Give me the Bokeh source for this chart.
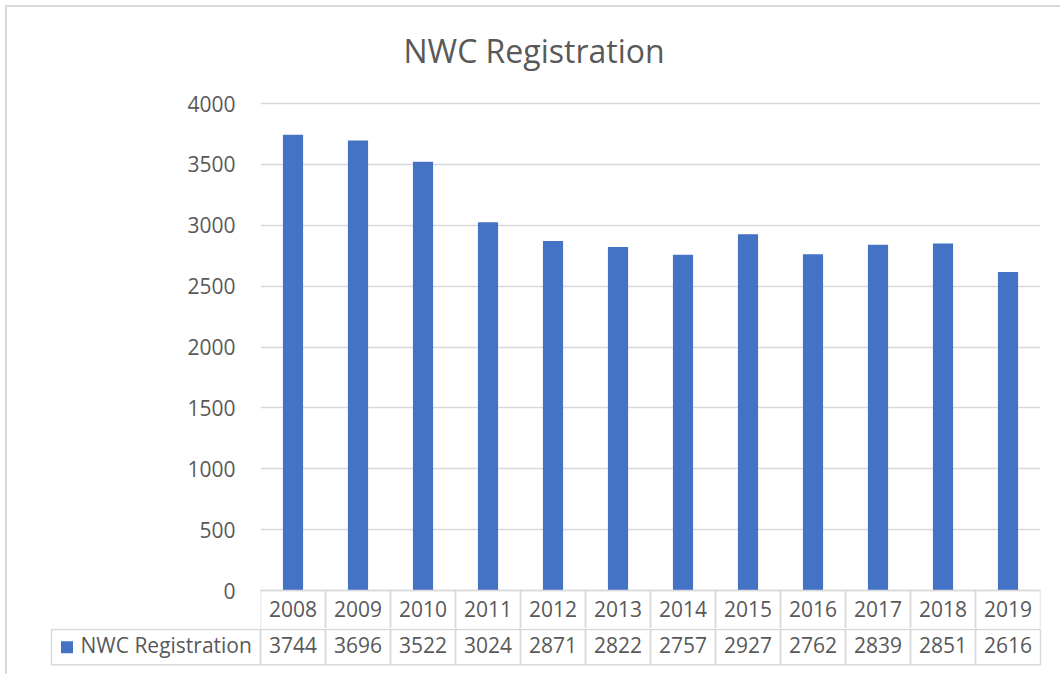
from bokeh.plotting import figure
from bokeh.models import Range1d, FixedTicker, ColumnDataSource, Div
from bokeh.core.properties import value
from bokeh.embed import file_html
from bokeh.resources import INLINE

# ---- data ----
years = ["2008", "2009", "2010", "2011", "2012", "2013", "2014", "2015", "2016", "2017", "2018", "2019"]
registrations = [3744, 3696, 3522, 3024, 2871, 2822, 2757, 2927, 2762, 2839, 2851, 2616]
series_name = "NWC Registration"
y_ticks = [0, 500, 1000, 1500, 2000, 2500, 3000, 3500, 4000]

# ---- style ----
FONT = "Open Sans"
FS = "21px"
TXT = "#595959"
GRID = "#d9d9d9"
BAR = "#4472C4"
W = 1056
PX_PER_COL = 65.0
FRAME_L = 260          # canvas x where first category column begins
A_H = 628
A_TOP = 95             # frame top (canvas)
B_H = 38

n = len(years)
xs = [i + 0.5 for i in range(n)]
lefts = [i for i in range(n)]
rights = [i + 1 for i in range(n)]

units_per_px = 4000 / 487.0
y_end = 4000 + 8 * units_per_px
y_start = -(A_H - A_TOP - 8 - 487) * units_per_px
hdr_mid = -18.5 * units_per_px

src = ColumnDataSource(dict(x=xs, left=lefts, right=rights, reg=registrations,
                            year=years, regtxt=[str(v) for v in registrations]))

p = figure(width=W, height=A_H, output_backend="svg", toolbar_location=None,
           x_range=Range1d(0, n), y_range=Range1d(y_start, y_end),
           x_axis_type=None, min_border_left=FRAME_L,
           min_border_right=int(W - FRAME_L - n * PX_PER_COL),
           min_border_top=A_TOP, min_border_bottom=0,
           title=series_name)
p.outline_line_color = None
p.background_fill_color = "white"
p.border_fill_color = "white"

p.title.text_font = FONT
p.title.text_font_size = "32px"
p.title.text_font_style = "normal"
p.title.text_color = TXT
p.title.align = "left"
p.title.offset = 143
p.title.standoff = 47

yax = p.yaxis[0]
yax.ticker = FixedTicker(ticks=y_ticks)
yax.axis_line_color = None
yax.major_tick_line_color = None
yax.minor_tick_line_color = None
yax.major_tick_out = 0
yax.major_label_standoff = 25
yax.major_label_text_font = FONT
yax.major_label_text_font_size = FS
yax.major_label_text_color = TXT

p.xgrid.visible = False
p.ygrid.ticker = FixedTicker(ticks=y_ticks)
p.ygrid.grid_line_color = GRID
p.ygrid.grid_line_width = 1.5

p.vbar(x="x", top="reg", width=0.31, bottom=0, source=src, fill_color=BAR, line_color=None)

# header row of data table (years)
p.quad(left="left", right="right", top=0, bottom=y_start - 100, source=src,
       fill_color=None, line_color=GRID, line_width=1.5)
p.text(x="x", y=hdr_mid, text="year", source=src, text_font=value(FONT),
       text_font_size=FS, text_color=TXT, text_align="center", text_baseline="middle")

# ---- data row of table ----
b_x_start = -FRAME_L / PX_PER_COL
b_x_end = (W - FRAME_L) / PX_PER_COL
leg_left = b_x_start + 51 / PX_PER_COL
q = figure(width=W, height=B_H, output_backend="svg", toolbar_location=None,
           x_range=Range1d(b_x_start, b_x_end), y_range=Range1d(-0.05, 1.03),
           x_axis_type=None, y_axis_type=None,
           min_border_left=0, min_border_right=0, min_border_top=0, min_border_bottom=0)
q.outline_line_color = None
q.background_fill_color = "white"
q.border_fill_color = "white"
q.xgrid.visible = False
q.ygrid.visible = False

q.quad(left="left", right="right", top=1, bottom=0, source=src,
       fill_color=None, line_color=GRID, line_width=1.5)
q.quad(left=[leg_left], right=[0], top=[1], bottom=[0],
       fill_color=None, line_color=GRID, line_width=1.5)
q.text(x="x", y=0.55, text="regtxt", source=src, text_font=value(FONT),
       text_font_size=FS, text_color=TXT, text_align="center", text_baseline="middle")
q.rect(x=[leg_left + 15.5 / PX_PER_COL], y=[0.5], width=12, height=12,
       width_units="screen", height_units="screen", fill_color=BAR, line_color=None)
q.text(x=[leg_left], y=[0.55], text=[series_name], x_offset=29, text_font=value(FONT),
       text_font_size=FS, text_color=TXT, text_align="left", text_baseline="middle")

frame_border = Div(text="", width=10, height=10,
                   styles={"position": "absolute", "left": "0px", "top": "0px",
                           "width": "1100px", "height": "700px",
                           "border-left": "2px solid #d9d9d9",
                           "border-top": "2px solid #d9d9d9",
                           "pointer-events": "none"})

open("out.html", "w").write(file_html([p, q, frame_border], INLINE))
